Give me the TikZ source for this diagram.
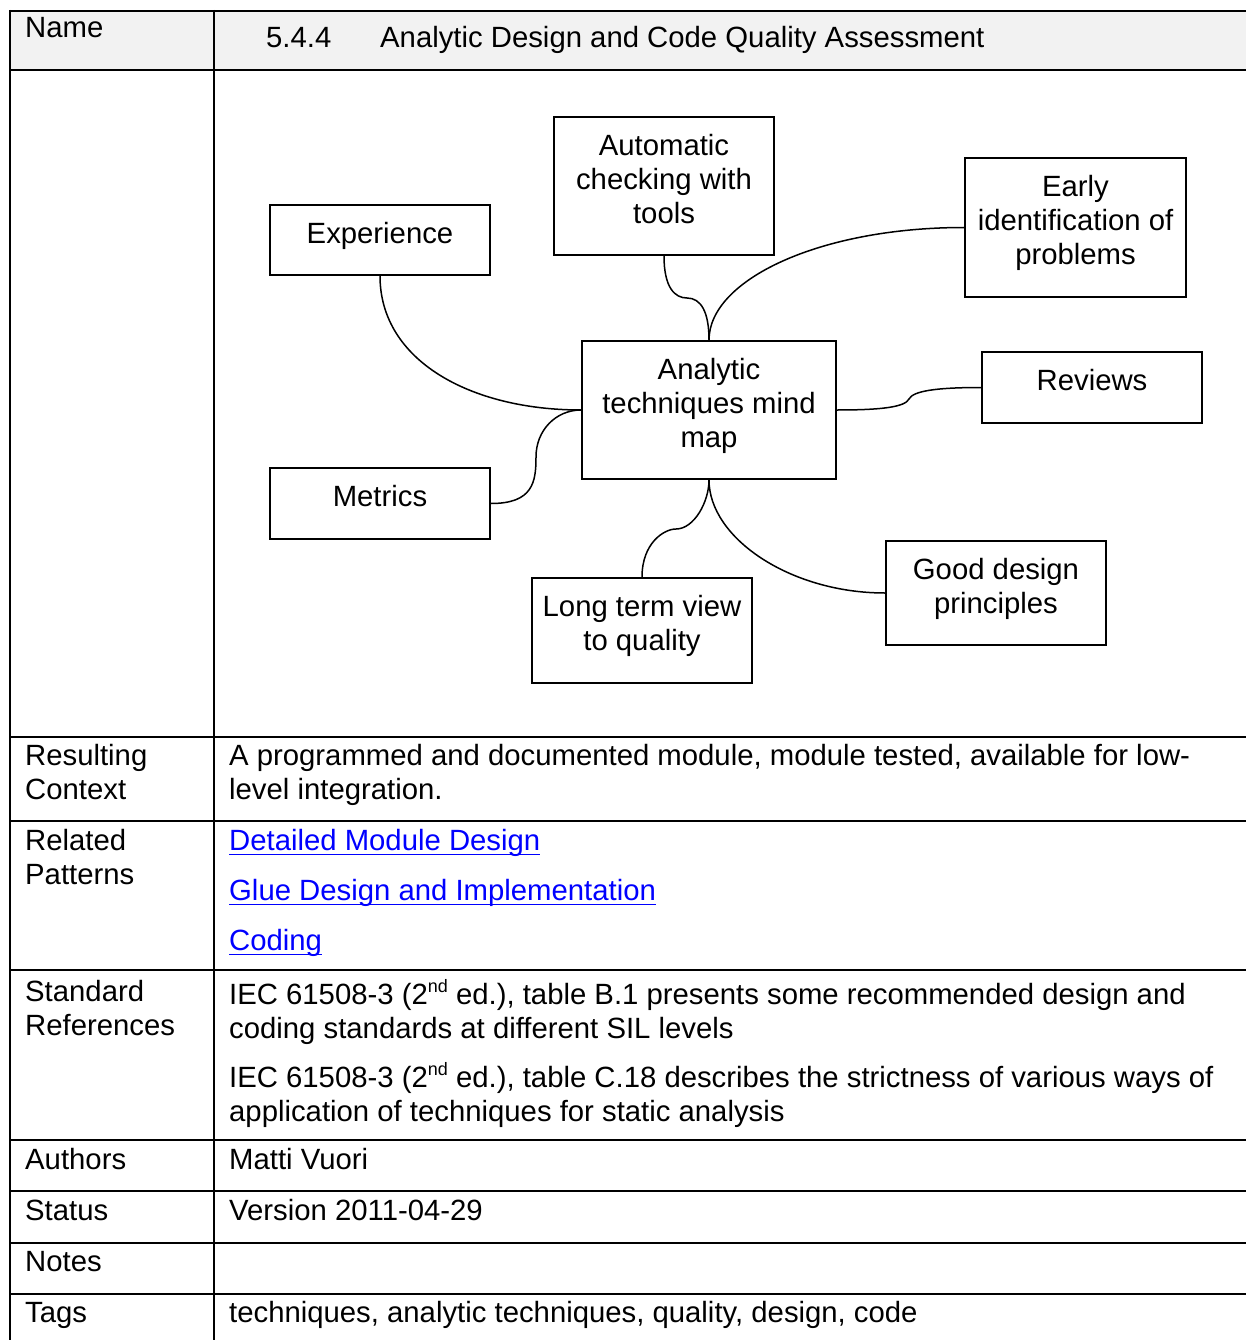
\documentclass[tikz,border=0pt]{standalone}
\usepackage{fontspec}
\setmainfont{Liberation Sans}
\definecolor{hdrgray}{HTML}{F2F2F2}
\definecolor{linkblue}{HTML}{0000FF}
\newcommand\st{\rule{0pt}{22pt}}
\newcommand\lnk[1]{{\color{linkblue}\setbox0\hbox{#1}\rlap{\rule[-5pt]{\wd0}{1.6pt}}\box0}}
\newcommand\sups[1]{\raisebox{12pt}{\fontsize{18}{18}\selectfont #1}}
\begin{document}
\begin{tikzpicture}[x=1pt,y=-1pt,
  every node/.style={font=\fontsize{29.3}{34}\selectfont, inner sep=0pt},
  grid/.style={line width=1.8pt},
  mapbox/.style={draw, line width=1.9pt, rectangle, inner sep=0pt, minimum width=220pt},
  lbl/.style={anchor=north, align=center, yshift=-17.5pt},
  cell/.style={anchor=north west, align=left},
  branch/.style={line width=1.5pt}]
\useasboundingbox (0,0) rectangle (1246,1340);
\clip (0,0) rectangle (1246,1340);
\fill[white] (0,0) rectangle (1246,1340);
% header
\fill[hdrgray] (10,11) rectangle (1246,70);
% table grid
\foreach \yy in {11,70,737,821,970,1140,1191,1243,1294}
  \draw[grid] (9,\yy) -- (1246,\yy);
\draw[grid] (10,10) -- (10,1340);
\draw[grid] (214,10) -- (214,1340);

% table texts
\node[cell] (nameL) at (25,15) {\st Name};
\node[cell] (num) at (266,25) {\st 5.4.4};
\node[cell] (title) at (380,25) {\st Analytic Design and Code Quality Assessment};
\node[cell] (resL) at (25,743) {\st Resulting\\Context};
\node[cell] (resR) at (229,743) {\st A programmed and documented module, module tested, available for low-\\level integration.};
\node[cell] (relL) at (25,828) {\st Related\\Patterns};
\node[cell] (lk1) at (229,828) {\st\lnk{Detailed Module Design}};
\node[cell] (lk2) at (229,878) {\st\lnk{Glue Design and Implementation}};
\node[cell] (lk3) at (229,928) {\st\lnk{Coding}};
\node[cell] (stdL) at (25,979) {\st Standard\\References};
\node[cell] (std1) at (229,979) {\st IEC 61508-3 (2\sups{nd} ed.), table B.1 presents some recommended design and\\coding standards at different SIL levels};
\node[cell] (std2) at (229,1062) {\st IEC 61508-3 (2\sups{nd} ed.), table C.18 describes the strictness of various ways of\\application of techniques for static analysis};
\node[cell] (autL) at (25,1147) {\st Authors};
\node[cell] (autR) at (229,1147) {\st Matti Vuori};
\node[cell] (staL) at (25,1198) {\st Status};
\node[cell] (staR) at (229,1198) {\st Version 2011-04-29};
\node[cell] (notL) at (25,1249) {\st Notes};
\node[cell] (tagL) at (25,1300) {\st Tags};
\node[cell] (tagR) at (229,1300) {\st techniques, analytic techniques, quality, design, code};

% mind map boxes
\node[mapbox, minimum height=70pt] (exp) at (380,240) {};
\node[mapbox, minimum height=138pt] (auto) at (664,186) {};
\node[mapbox, minimum width=221pt, minimum height=139pt] (early) at (1075.5,227.5) {};
\node[mapbox, minimum width=254pt, minimum height=138pt] (ana) at (709,410) {};
\node[mapbox, minimum height=71pt] (rev) at (1092,387.5) {};
\node[mapbox, minimum height=71pt] (met) at (380,503.5) {};
\node[mapbox, minimum height=105pt] (long) at (642,630.5) {};
\node[mapbox, minimum height=104pt] (good) at (996,593) {};

\node[lbl] (expT) at (exp.north) {\st Experience};
\node[lbl] (autoT) at (auto.north) {\st Automatic\\checking with\\tools};
\node[lbl] (earlyT) at (early.north) {\st Early\\identification of\\problems};
\node[lbl] (anaT) at (ana.north) {\st Analytic\\techniques mind\\map};
\node[lbl] (revT) at (rev.north) {\st Reviews};
\node[lbl] (metT) at (met.north) {\st Metrics};
\node[lbl] (longT) at (long.north) {\st Long term view\\to quality};
\node[lbl] (goodT) at (good.north) {\st Good design\\principles};

% branches
\draw[branch] (exp.south) .. controls +(0,85) and +(-110,0) .. (ana.west);
\draw[branch] (met.east) .. controls +(42,0) and (536,482) .. (536,457)
  .. controls (536,430) and +(-25,0) .. (ana.west);
\draw[branch] (auto.south) .. controls +(0,32) and (675,298) .. (687,298)
  .. controls (701,298) and +(0,-28) .. (ana.north);
\draw[branch] (early.west) .. controls +(-145,0) and +(0,-60) .. (ana.north);
\draw[branch] (ana.east) .. controls +(45,0) and (905,407) .. (909,399)
  .. controls (913,391) and +(-45,0) .. (rev.west);
\draw[branch] (long.north) .. controls +(0,-34) and (664,529) .. (676,529)
  .. controls (694,529) and +(0,22) .. (ana.south);
\draw[branch] (ana.south) .. controls +(0,58) and +(-95,0) .. (good.west);
\end{tikzpicture}
\end{document}
